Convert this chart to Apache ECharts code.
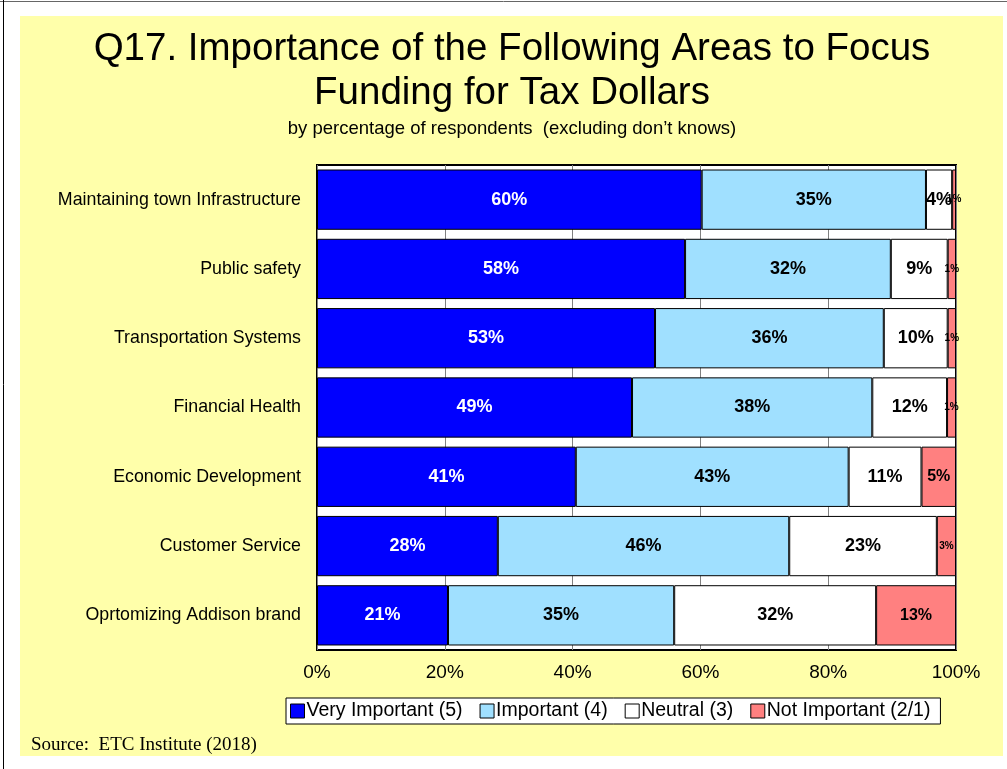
<!DOCTYPE html>
<html>
<head>
<meta charset="utf-8">
<style>
  html, body { margin: 0; padding: 0; background: #fff; }
  #chart { width: 1007px; height: 769px; }
</style>
<script src="https://cdn.jsdelivr.net/npm/echarts@6/dist/echarts.min.js"></script>
</head>
<body>
<div id="chart"></div>
<script>
// Survey areas, top to bottom
const categories = [
  'Maintaining town Infrastructure',
  'Public safety',
  'Transportation Systems',
  'Financial Health',
  'Economic Development',
  'Customer Service',
  'Oprtomizing Addison brand'
];

// Percent of respondents per rating
const veryImportant = [60.2, 57.6, 52.9, 49.3, 40.5, 28.3, 20.5];
const important     = [35.1, 32.2, 35.8, 37.6, 42.7, 45.6, 35.4];
const neutral       = [4.1, 8.9, 10.0, 11.7, 11.4, 23.1, 31.6];
const notImportant  = [0.6, 1.3, 1.3, 1.4, 5.4, 3.0, 12.5];

const seriesNames = ['Very Important (5)', 'Important (4)', 'Neutral (3)', 'Not Important (2/1)'];
const xTicks = [0, 20, 40, 60, 80, 100];

const FONT = '"Liberation Sans", Arial, sans-serif';
const SERIF = '"Liberation Serif", "Times New Roman", serif';
const pct = p => Math.round(p.value) + '%';

function makeSeries(name, values, color, textColor, fontSize, smallIdx) {
  return {
    name: name,
    type: 'bar',
    stack: 'total',
    barWidth: '87%',
    itemStyle: { color: color, borderColor: '#000', borderWidth: 1 },
    label: {
      show: true,
      position: 'inside',
      formatter: pct,
      color: textColor,
      fontFamily: FONT,
      fontWeight: 'bold',
      fontSize: fontSize
    },
    data: values.map((v, i) => {
      const d = { value: v };
      if (smallIdx && smallIdx.indexOf(i) >= 0) {
        d.label = { fontSize: 10 };
      }
      return d;
    })
  };
}

const chart = echarts.init(document.getElementById('chart'), null, { renderer: 'canvas' });

chart.setOption({
  animation: false,
  backgroundColor: '#fff',
  graphic: [
    { type: 'rect', z: -10, shape: { x: 20, y: 16, width: 983, height: 740 }, style: { fill: '#FFFFAA' }, silent: true },
    { type: 'line', z: -9, shape: { x1: 0, y1: 1.5, x2: 1007, y2: 1.5 }, style: { stroke: '#666', lineWidth: 1 } },
    { type: 'line', z: -9, shape: { x1: 3.5, y1: 0, x2: 3.5, y2: 769 }, style: { stroke: '#000', lineWidth: 1 } },
    { type: 'text', style: { text: 'Q17. Importance of the Following Areas to Focus', x: 512, y: 49, textAlign: 'center', textVerticalAlign: 'middle', font: '38.5px ' + FONT, fill: '#000' } },
    { type: 'text', style: { text: 'Funding for Tax Dollars', x: 512, y: 93, textAlign: 'center', textVerticalAlign: 'middle', font: '38.5px ' + FONT, fill: '#000' } },
    { type: 'text', style: { text: 'by percentage of respondents  (excluding don\u2019t knows)', x: 512, y: 129, textAlign: 'center', textVerticalAlign: 'middle', font: '18.5px ' + FONT, fill: '#000' } },
    { type: 'text', style: { text: 'Source:  ETC Institute (2018)', x: 31, y: 745, textAlign: 'left', textVerticalAlign: 'middle', font: '19px ' + SERIF, fill: '#000' } }
  ],
  grid: {
    left: 317, right: 51, top: 165, bottom: 119,
    show: true, backgroundColor: '#fff', borderColor: '#000', borderWidth: 2, z: 0
  },
  legend: {
    left: 286, top: 698,
    backgroundColor: '#fff', borderColor: '#000', borderWidth: 1,
    padding: [3, 10, 3, 4],
    itemGap: 17, itemWidth: 14, itemHeight: 14,
    icon: 'rect',
    itemStyle: { borderColor: '#000', borderWidth: 1 },
    textStyle: { fontFamily: FONT, fontSize: 19.5, color: '#000', padding: [0, 0, 0, -3] },
    data: seriesNames
  },
  xAxis: {
    type: 'value', min: 0, max: 100, interval: 20,
    axisLine: { show: false }, axisTick: { show: false },
    splitLine: { show: true, lineStyle: { color: '#808080', width: 1 } },
    axisLabel: { formatter: v => v + '%', fontFamily: FONT, fontSize: 19, color: '#000', margin: 13,
      customValues: xTicks }
  },
  yAxis: {
    type: 'category', inverse: true, data: categories,
    axisLine: { show: false }, axisTick: { show: false },
    axisLabel: { fontFamily: FONT, fontSize: 17.8, color: '#000', margin: 16 }
  },
  series: [
    makeSeries(seriesNames[0], veryImportant, '#0000FF', '#fff', 18),
    makeSeries(seriesNames[1], important, '#A0E0FF', '#000', 18),
    makeSeries(seriesNames[2], neutral, '#fff', '#000', 18),
    makeSeries(seriesNames[3], notImportant, '#FF8080', '#000', 16, [0, 1, 2, 3, 5])
  ]
});
</script>
</body>
</html>
